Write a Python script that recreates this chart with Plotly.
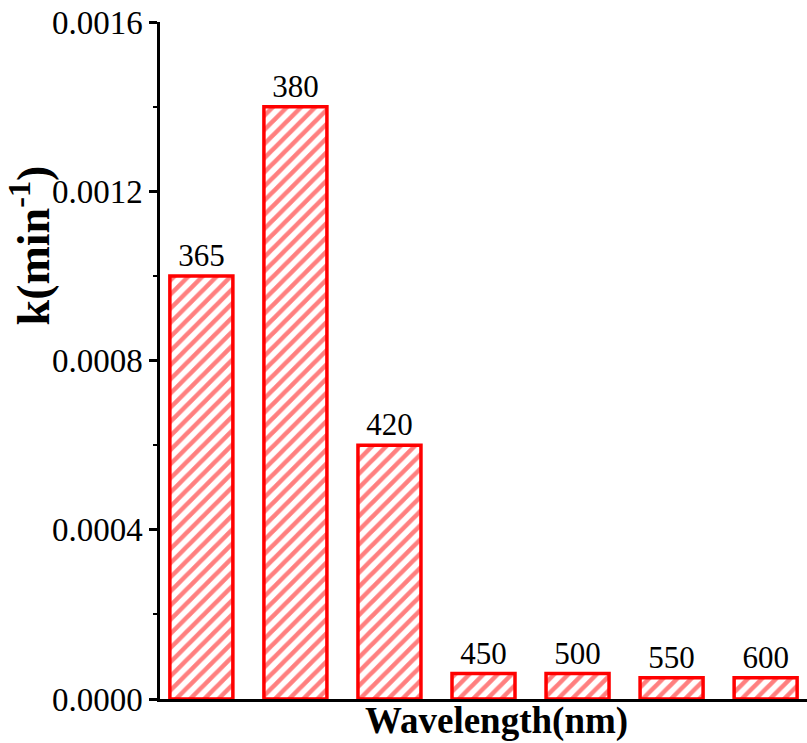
import plotly.graph_objects as go

# Rate constant k for each irradiation wavelength
wavelengths = ["365", "380", "420", "450", "500", "550", "600"]
k_values = [0.0010, 0.0014, 0.0006, 0.00006, 0.00006, 0.00005, 0.00005]

y_tick_vals = [0, 0.0004, 0.0008, 0.0012, 0.0016]
y_tick_text = ["0.0000", "0.0004", "0.0008", "0.0012", "0.0016"]

serif = "Liberation Serif"

fig = go.Figure(
    go.Bar(
        x=wavelengths,
        y=k_values,
        text=wavelengths,
        textposition="outside",
        cliponaxis=False,
        textfont=dict(family=serif, size=31, color="black"),
        marker=dict(
            color="white",
            line=dict(color="#ff0000", width=3.5),
            pattern=dict(shape="/", fgcolor="#ff0000", bgcolor="white",
                         size=10, solidity=0.45),
        ),
    )
)

fig.update_layout(
    width=807,
    height=743,
    margin=dict(l=160, r=0, t=22, b=44),
    paper_bgcolor="white",
    plot_bgcolor="white",
    bargap=0.33,
    showlegend=False,
    font=dict(family=serif, color="black"),
    xaxis=dict(
        range=[-0.44, 6.44],
        showticklabels=False,
        ticks="",
        showgrid=False,
        showline=True,
        linecolor="black",
        linewidth=2.5,
        zeroline=False,
    ),
    yaxis=dict(
        range=[0, 0.0016],
        tickvals=y_tick_vals,
        ticktext=y_tick_text,
        ticks="outside",
        ticklen=8,
        tickwidth=2.5,
        tickcolor="black",
        tickfont=dict(family=serif, size=33, color="black"),
        showgrid=False,
        showline=True,
        linecolor="black",
        linewidth=2.5,
        zeroline=False,
        minor=dict(dtick=0.0002, ticks="outside", ticklen=4, tickwidth=2,
                   tickcolor="black", showgrid=False),
    ),
    annotations=[
        dict(text="<b>Wavelength(nm)</b>", xref="paper", yref="paper",
             x=0.52, y=0, yshift=-22, xanchor="center", yanchor="middle",
             showarrow=False,
             font=dict(family=serif, size=37, color="black")),
        dict(text="<b>k(min<sup>-1</sup>)</b>", xref="paper", yref="paper",
             x=0, xshift=-130, y=0.67, xanchor="center", yanchor="middle",
             textangle=-90, showarrow=False,
             font=dict(family=serif, size=46, color="black")),
    ],
)

fig.write_html("out.html")
